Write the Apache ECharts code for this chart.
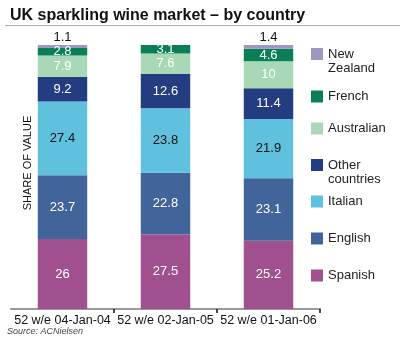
<!DOCTYPE html>
<html>
<head>
<meta charset="utf-8">
<script src="https://cdn.jsdelivr.net/npm/echarts@6/dist/echarts.min.js"></script>
<style>html,body{margin:0;padding:0;background:#fff}#c{width:400px;height:353px}</style>
</head>
<body>
<div id="c"></div>
<script>
var categories = ['52 w/e 04-Jan-04', '52 w/e 02-Jan-05', '52 w/e 01-Jan-06'];
var spanish    = [26, 27.5, 25.2];
var english    = [23.7, 22.8, 23.1];
var italian    = [27.4, 23.8, 21.9];
var other      = [9.2, 12.6, 11.4];
var australian = [7.9, 7.6, 10];
var french     = [2.8, 3.1, 4.6];
var newZealand = [1.1, null, 1.4];

var seriesDefs = [
  {name: 'Spanish', data: spanish, color: '#a0508f', label: '#ffffff'},
  {name: 'English', data: english, color: '#41659a', label: '#ffffff'},
  {name: 'Italian', data: italian, color: '#5fc1de', label: '#111111'},
  {name: 'Other countries', data: other, color: '#243c80', label: '#ffffff'},
  {name: 'Australian', data: australian, color: '#a8d8b6', label: '#ffffff'},
  {name: 'French', data: french, color: '#0a7e55', label: '#ffffff'},
  {name: 'New Zealand', data: newZealand, color: '#9f97c0', label: '#111111', top: true}
];

var totals = categories.map(function (c, i) {
  var t = 0;
  seriesDefs.forEach(function (s) { if (s.data[i] != null) t += s.data[i]; });
  return t;
});

var font = 'Liberation Sans';
var series = seriesDefs.map(function (s) {
  return {
    name: s.name,
    type: 'bar',
    stack: 'all',
    barWidth: '48%',
    itemStyle: {color: s.color},
    label: {
      show: true,
      position: s.top ? 'top' : 'inside',
      distance: 1,
      color: s.label,
      fontFamily: font,
      fontSize: 13,
      formatter: function (p) { return s.data[p.dataIndex]; }
    },
    data: s.data.map(function (v, i) { return v == null ? null : v / totals[i] * 100; })
  };
});

var legendItems = [
  {name: 'New Zealand', lines: ['New', 'Zealand'], iconTop: 50},
  {name: 'French', lines: ['French'], iconTop: 90},
  {name: 'Australian', lines: ['Australian'], iconTop: 122},
  {name: 'Other countries', lines: ['Other', 'countries'], iconTop: 161},
  {name: 'Italian', lines: ['Italian'], iconTop: 195},
  {name: 'English', lines: ['English'], iconTop: 232},
  {name: 'Spanish', lines: ['Spanish'], iconTop: 269}
];
var legends = legendItems.map(function (l) {
  var two = l.lines.length > 1;
  return {
    data: [l.name],
    left: 311,
    top: two ? l.iconTop + 6 - 21 : l.iconTop,
    itemWidth: 12,
    itemHeight: 12,
    itemGap: 0,
    padding: 0,
    selectedMode: false,
    icon: 'rect',
    formatter: function () {
      return two ? '{s| }\n{t|' + l.lines[0] + '}\n{t|' + l.lines[1] + '}' : '{t|' + l.lines[0] + '}';
    },
    textStyle: {
      fontFamily: font, fontSize: 13, color: '#222',
      rich: {
        s: {fontSize: 10, lineHeight: 14},
        t: {fontFamily: font, fontSize: 13, color: '#222', lineHeight: two ? 14 : 12}
      }
    }
  };
});

var chart = echarts.init(document.getElementById('c'), null, {renderer: 'canvas'});
chart.setOption({
  animation: false,
  backgroundColor: '#fff',
  grid: {left: 11, right: 80, top: 45, bottom: 44},
  legend: legends,
  xAxis: {
    type: 'category',
    data: categories,
    axisLine: {lineStyle: {color: '#999', width: 2}},
    axisTick: {show: true, length: 4, lineStyle: {color: '#111', width: 1.5},
      interval: function (index) { return index === 1 || index === 2; }},
    axisLabel: {color: '#111', fontFamily: font, fontSize: 12.5, margin: 5, interval: 0}
  },
  yAxis: {type: 'value', min: 0, max: 100, show: false},
  series: series,
  graphic: [
    {type: 'text', left: 10, top: 8, style: {text: 'UK sparkling wine market – by country', font: 'bold 16px "Liberation Sans"', fill: '#111'}},
    {type: 'line', shape: {x1: 5, y1: 25.5, x2: 400, y2: 25.5}, style: {stroke: '#aaa', lineWidth: 1}},
    {type: 'text', x: 28, y: 163, rotation: Math.PI / 2, style: {text: 'SHARE OF VALUE', font: '11px "Liberation Sans"', fill: '#111', align: 'center', verticalAlign: 'middle'}},
    {type: 'text', left: 7, top: 327, style: {text: 'Source: ACNielsen', font: 'italic 9px "Liberation Sans"', fill: '#444'}}
  ]
});
</script>
</body>
</html>
